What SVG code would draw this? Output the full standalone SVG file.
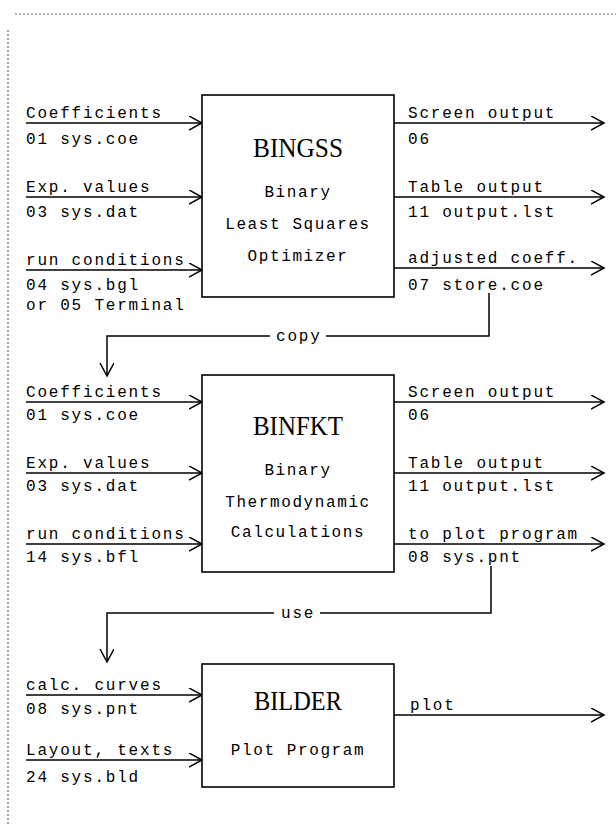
<svg xmlns="http://www.w3.org/2000/svg" width="616" height="824" viewBox="0 0 616 824">
<style>
.t{font-family:"Liberation Mono","DejaVu Sans Mono",monospace;font-size:16px;letter-spacing:1.8px;fill:#000}
.b{font-family:"Liberation Mono","DejaVu Sans Mono",monospace;font-size:16px;letter-spacing:1.6px;fill:#000;text-anchor:middle}
.h{font-family:"Liberation Serif","DejaVu Serif",serif;font-size:28px;fill:#000;text-anchor:middle}
.box{fill:#fff;stroke:#000;stroke-width:1.6}
.ln{fill:none;stroke:#000;stroke-width:1.5}
.frame{fill:none;stroke:#666;stroke-width:1.2;stroke-dasharray:2 2}
</style>
<defs>
<marker id="ah" markerUnits="userSpaceOnUse" markerWidth="16" markerHeight="16" refX="13" refY="7" orient="auto">
<path d="M0,0 L13,7 L0,14" fill="none" stroke="#000" stroke-width="1.5"/>
</marker>
</defs>
<rect width="616" height="824" fill="#fff"/>
<g id="frame">
<line class="frame" x1="15" y1="14" x2="616" y2="14"/>
<line class="frame" x1="8" y1="30" x2="8" y2="824"/>
</g>
<g id="connectors">
<line class="ln" x1="26" y1="123" x2="202" y2="123" marker-end="url(#ah)"/>
<line class="ln" x1="26" y1="197" x2="202" y2="197" marker-end="url(#ah)"/>
<line class="ln" x1="26" y1="270" x2="202" y2="270" marker-end="url(#ah)"/>
<line class="ln" x1="394" y1="123" x2="604" y2="123" marker-end="url(#ah)"/>
<line class="ln" x1="394" y1="197" x2="604" y2="197" marker-end="url(#ah)"/>
<line class="ln" x1="394" y1="268" x2="604" y2="268" marker-end="url(#ah)"/>
<polyline class="ln" points="489,293 489,336 326,336"/>
<polyline class="ln" points="270,336 107,336 107,376" marker-end="url(#ah)"/>
<line class="ln" x1="26" y1="402" x2="202" y2="402" marker-end="url(#ah)"/>
<line class="ln" x1="26" y1="473" x2="202" y2="473" marker-end="url(#ah)"/>
<line class="ln" x1="26" y1="544" x2="202" y2="544" marker-end="url(#ah)"/>
<line class="ln" x1="394" y1="402" x2="604" y2="402" marker-end="url(#ah)"/>
<line class="ln" x1="394" y1="473" x2="604" y2="473" marker-end="url(#ah)"/>
<line class="ln" x1="394" y1="544" x2="604" y2="544" marker-end="url(#ah)"/>
<polyline class="ln" points="491,566 491,613 320,613"/>
<polyline class="ln" points="274,613 107,613 107,662" marker-end="url(#ah)"/>
<line class="ln" x1="26" y1="695" x2="202" y2="695" marker-end="url(#ah)"/>
<line class="ln" x1="26" y1="760" x2="202" y2="760" marker-end="url(#ah)"/>
<line class="ln" x1="394" y1="715" x2="604" y2="715" marker-end="url(#ah)"/>
</g>
<g id="labels">
<text class="t" x="26" y="118">Coefficients</text>
<text class="t" x="26" y="144">01 sys.coe</text>
<text class="t" x="26" y="192">Exp. values</text>
<text class="t" x="26" y="217">03 sys.dat</text>
<text class="t" x="26" y="265">run conditions</text>
<text class="t" x="26" y="290">04 sys.bgl</text>
<text class="t" x="26" y="310">or 05 Terminal</text>
<text class="t" x="408" y="118">Screen output</text>
<text class="t" x="408" y="144">06</text>
<text class="t" x="408" y="192">Table output</text>
<text class="t" x="408" y="217">11 output.lst</text>
<text class="t" x="408" y="263">adjusted coeff.</text>
<text class="t" x="408" y="290">07 store.coe</text>
<text class="t" x="276" y="341">copy</text>
<text class="t" x="26" y="397">Coefficients</text>
<text class="t" x="26" y="420">01 sys.coe</text>
<text class="t" x="26" y="468">Exp. values</text>
<text class="t" x="26" y="491">03 sys.dat</text>
<text class="t" x="26" y="539">run conditions</text>
<text class="t" x="26" y="562">14 sys.bfl</text>
<text class="t" x="408" y="397">Screen output</text>
<text class="t" x="408" y="420">06</text>
<text class="t" x="408" y="468">Table output</text>
<text class="t" x="408" y="491">11 output.lst</text>
<text class="t" x="408" y="539">to plot program</text>
<text class="t" x="408" y="562">08 sys.pnt</text>
<text class="t" x="281" y="618">use</text>
<text class="t" x="26" y="690">calc. curves</text>
<text class="t" x="26" y="714">08 sys.pnt</text>
<text class="t" x="26" y="755">Layout, texts</text>
<text class="t" x="26" y="782">24 sys.bld</text>
<text class="t" x="410" y="710">plot</text>
</g>
<g id="BINGSS">
<rect class="box" x="202" y="95" width="192" height="202"/>
<text class="h" x="298" y="157" textLength="90" lengthAdjust="spacingAndGlyphs">BINGSS</text>
<text class="b" x="298" y="197">Binary</text>
<text class="b" x="298" y="229">Least Squares</text>
<text class="b" x="298" y="261">Optimizer</text>
</g>
<g id="BINFKT">
<rect class="box" x="202" y="375" width="192" height="197"/>
<text class="h" x="298" y="435" textLength="90" lengthAdjust="spacingAndGlyphs">BINFKT</text>
<text class="b" x="298" y="475">Binary</text>
<text class="b" x="298" y="507">Thermodynamic</text>
<text class="b" x="298" y="537">Calculations</text>
</g>
<g id="BILDER">
<rect class="box" x="202" y="664" width="192" height="123"/>
<text class="h" x="298" y="710" textLength="88" lengthAdjust="spacingAndGlyphs">BILDER</text>
<text class="b" x="298" y="755">Plot Program</text>
</g>
</svg>
